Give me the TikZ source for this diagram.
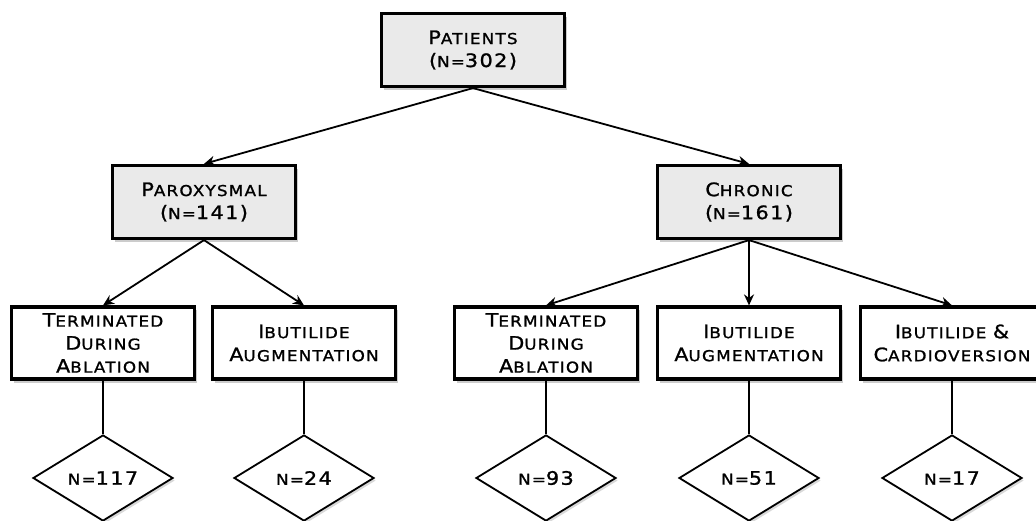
\documentclass[tikz,border=0pt]{standalone}
\usepackage{fontspec}
\newfontfamily\capfont[FakeStretch=1.12,LetterSpace=8,FakeBold=1.2]{DejaVu Sans}
\usetikzlibrary{positioning, shapes.geometric, shadows, arrows.meta}
\definecolor{boxgray}{RGB}{234,234,234}
\newcommand{\bl}[1]{{\fontsize{18.5}{23}\selectfont #1}}

\tikzset{
  capbox/.style={draw, line width=3.2pt, fill=white, align=center,
    minimum width=183pt, minimum height=72pt, inner sep=0pt,
    font=\capfont\fontsize{15}{23}\selectfont,
    drop shadow={shadow xshift=2.5pt, shadow yshift=-3.5pt, opacity=0.4}},
  graybox/.style={capbox, fill=boxgray, minimum height=73pt},
  countdia/.style={diamond, draw, line width=1.8pt, fill=white, aspect=1.63,
    minimum width=140pt, minimum height=86pt, inner sep=0pt,
    font=\capfont\fontsize{15}{16}\selectfont,
    drop shadow={shadow xshift=2pt, shadow yshift=-2.5pt, opacity=0.3}},
  arr/.style={line width=1.8pt, -{Stealth[length=11pt, width=10pt]}},
  stem/.style={line width=1.6pt}
}

\begin{document}
\begin{tikzpicture}[x=1pt, y=-1pt]
\useasboundingbox (0,0) rectangle (1036,521);

% first and second level
\node[graybox] (pat) at (473,50) {\bl{P}ATIENTS\\\bl{(}N=\bl{302)}};
\node[graybox] (par) at (204,202) {\bl{P}AROXYSMAL\\\bl{(}N=\bl{141)}};
\node[graybox] (chr) at (749,202) {\bl{C}HRONIC\\\bl{(}N=\bl{161)}};

% third level
\node[capbox] (termA) at (103,343) {\bl{T}ERMINATED\\\bl{D}URING\\\bl{A}BLATION};
\node[capbox] (ibuA) at (304,343) {\bl{I}BUTILIDE\\\bl{A}UGMENTATION};
\node[capbox] (termB) at (546,343) {\bl{T}ERMINATED\\\bl{D}URING\\\bl{A}BLATION};
\node[capbox] (ibuB) at (749,343) {\bl{I}BUTILIDE\\\bl{A}UGMENTATION};
\node[capbox] (card) at (952,343) {\bl{I}BUTILIDE \bl{\&}\\\bl{C}ARDIOVERSION};

% counts
\node[countdia] (nA) at (103,478) {N=\bl{117}};
\node[countdia] (nB) at (304,478) {N=\bl{24}};
\node[countdia] (nC) at (546,478) {N=\bl{93}};
\node[countdia] (nD) at (749,478) {N=\bl{51}};
\node[countdia] (nE) at (952,478) {N=\bl{17}};

\draw[arr] (pat.south) -- (par.north);
\draw[arr] (pat.south) -- (chr.north);
\draw[arr] (par.south) -- (termA.north);
\draw[arr] (par.south) -- (ibuA.north);
\draw[arr] (chr.south) -- (termB.north);
\draw[arr] (chr.south) -- (ibuB.north);
\draw[arr] (chr.south) -- (card.north);

\foreach \b/\n in {termA/nA, ibuA/nB, termB/nC, ibuB/nD, card/nE}
  \draw[stem] (\b.south) -- (\n.north);
\end{tikzpicture}
\end{document}
